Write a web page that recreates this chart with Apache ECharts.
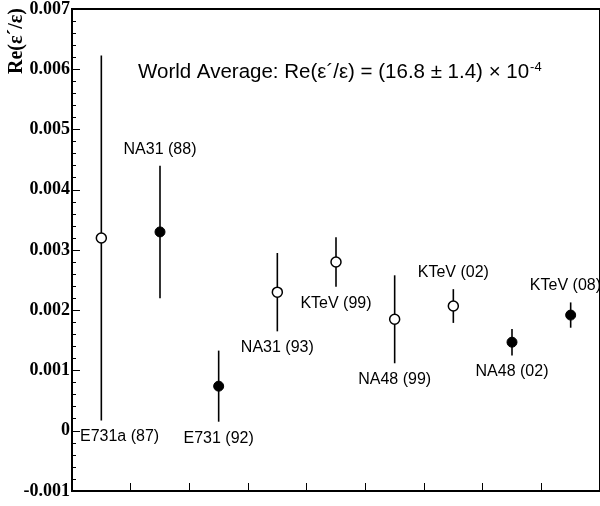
<!DOCTYPE html>
<html>
<head>
<meta charset="utf-8">
<script src="https://cdn.jsdelivr.net/npm/echarts@6/dist/echarts.min.js"></script>
<style>
html,body{margin:0;padding:0;background:#fff;}
#chart{width:600px;height:506px;}
</style>
</head>
<body>
<div id="chart"></div>
<script>
// ---- data ----
const experiments = ['E731a (87)', 'NA31 (88)', 'E731 (92)', 'NA31 (93)', 'KTeV (99)', 'NA48 (99)', 'KTeV (02)', 'NA48 (02)', 'KTeV (08)'];
const xSlots = [0.5, 1.5, 2.5, 3.5, 4.5, 5.5, 6.5, 7.5, 8.5];
const values = [0.0032, 0.0033, 0.00074, 0.0023, 0.0028, 0.00185, 0.00207, 0.00147, 0.00192];
const errors = [0.00303, 0.0011, 0.00059, 0.00065, 0.00041, 0.00073, 0.00028, 0.00022, 0.00021];
const filled = [false, true, true, false, false, false, false, true, true];
const labelSide = ['below', 'above', 'below', 'below', 'below', 'below', 'above', 'below', 'above'];
const yTicks = [-0.001, 0, 0.001, 0.002, 0.003, 0.004, 0.005, 0.006, 0.007];
const worldAverageText = 'World Average: Re(ε´/ε) = (16.8 ± 1.4) × 10';
const worldAverageExp = '-4';
const yAxisTitle = 'Re(ε´/ε)';

const chart = echarts.init(document.getElementById('chart'), null, {renderer: 'canvas'});

const openPts = [], filledPts = [], barData = [], labelData = [];
for (let i = 0; i < values.length; i++) {
  const p = [xSlots[i], values[i]];
  (filled[i] ? filledPts : openPts).push(p);
  barData.push([xSlots[i], values[i] - errors[i], values[i] + errors[i]]);
  const above = labelSide[i] === 'above';
  labelData.push({
    value: [xSlots[i], above ? values[i] + errors[i] : values[i] - errors[i]],
    name: experiments[i],
    label: {position: above ? 'top' : 'bottom'}
  });
}

const sans = '"Liberation Sans", Arial, sans-serif';
const serif = '"Liberation Serif", "Times New Roman", serif';

const option = {
  animation: false,
  backgroundColor: '#fff',
  grid: {left: 72, top: 8, right: -5, bottom: 15, show: true, borderColor: '#000', borderWidth: 2, backgroundColor: 'transparent'},
  title: {
    text: worldAverageText + '{sup|' + worldAverageExp + '}',
    left: 133, top: 56,
    textStyle: {
      fontFamily: sans, fontSize: 20.5, fontWeight: 'normal', color: '#000',
      rich: {sup: {fontFamily: sans, fontSize: 13, color: '#000', verticalAlign: 'top', padding: [0, 0, 10, 1]}}
    }
  },
  graphic: [{
    type: 'text', x: 17, y: 41, rotation: Math.PI / 2,
    style: {text: yAxisTitle, fontFamily: serif, fontWeight: 'bold', fontSize: 20, fill: '#000', align: 'center', verticalAlign: 'middle'}
  }],
  xAxis: {
    type: 'value', min: 0, max: 9, interval: 1,
    axisLine: {show: true, onZero: false, lineStyle: {color: '#000', width: 2}},
    axisTick: {show: true, inside: true, length: 8, lineStyle: {color: '#000', width: 1}},
    axisLabel: {show: false},
    splitLine: {show: false}
  },
  yAxis: {
    type: 'value', min: yTicks[0], max: yTicks[yTicks.length - 1], interval: 0.001,
    axisLine: {show: true, onZero: false, lineStyle: {color: '#000', width: 2}},
    axisTick: {show: true, inside: true, length: 8, lineStyle: {color: '#000', width: 1}},
    minorTick: {show: true, splitNumber: 5, length: 4, lineStyle: {color: '#000', width: 1}},
    axisLabel: {
      margin: 2, color: '#000', fontFamily: serif, fontWeight: 'bold', fontSize: 18,
      formatter: v => (Math.abs(v) < 1e-12 ? '0' : v.toFixed(3))
    },
    splitLine: {show: false}
  },
  series: [
    {
      type: 'custom', z: 2,
      renderItem: function (params, api) {
        const x = api.value(0);
        const lo = api.coord([x, api.value(1)]);
        const hi = api.coord([x, api.value(2)]);
        return {type: 'line', shape: {x1: lo[0], y1: lo[1], x2: hi[0], y2: hi[1]}, style: {stroke: '#000', lineWidth: 1.6}};
      },
      encode: {x: 0, y: [1, 2]},
      data: barData
    },
    {
      type: 'scatter', z: 3, symbol: 'circle', symbolSize: 10,
      itemStyle: {color: '#fff', borderColor: '#000', borderWidth: 1.5, opacity: 1},
      data: openPts
    },
    {
      type: 'scatter', z: 3, symbol: 'circle', symbolSize: 10,
      itemStyle: {color: '#000', borderColor: '#000', borderWidth: 1, opacity: 1},
      data: filledPts
    },
    {
      type: 'scatter', z: 4, symbol: 'circle', symbolSize: 1, silent: true,
      itemStyle: {color: 'rgba(255,255,255,0)'},
      label: {show: true, formatter: '{b}', distance: 8, color: '#000', opacity: 1, textBorderWidth: 0, fontFamily: sans, fontSize: 16},
      labelLayout: function (params) {
        const r = params.labelRect;
        let dx = 0;
        if (r.x < 80) dx = 80 - r.x;
        if (r.x + r.width > 601) dx = 601 - (r.x + r.width);
        return {dx: dx};
      },
      data: labelData
    }
  ]
};
chart.setOption(option);
</script>
</body>
</html>
